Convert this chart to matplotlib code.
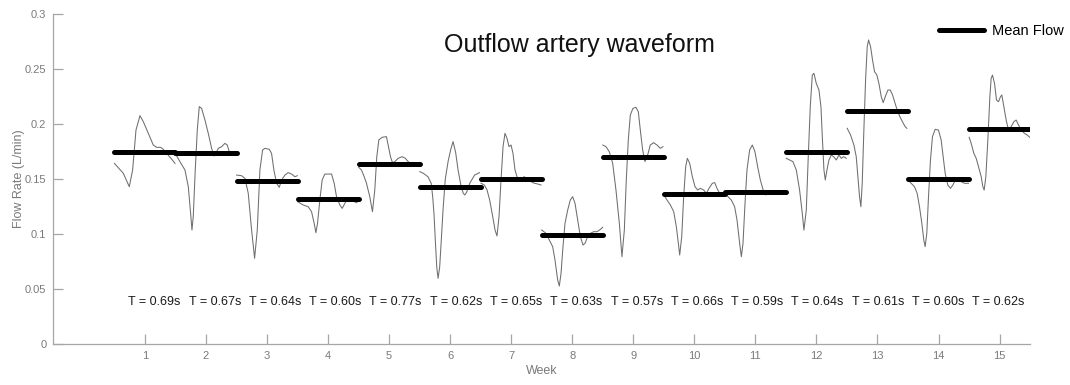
import matplotlib
matplotlib.use("Agg")
import matplotlib.pyplot as plt
import numpy as np

plt.rcParams["font.family"] = ["Liberation Sans", "DejaVu Sans"]

weeks = list(range(1, 16))
mean_flow = [0.1743, 0.1733, 0.1485, 0.1318, 0.1633, 0.1430, 0.1503, 0.0994,
             0.1703, 0.1361, 0.1382, 0.1743, 0.2121, 0.1497, 0.1955]
periods = ["0.69", "0.67", "0.64", "0.60", "0.77", "0.62", "0.65", "0.63",
           "0.57", "0.66", "0.59", "0.64", "0.61", "0.60", "0.62"]

# One cardiac cycle per week: (fraction of cycle, flow in L/min)
wave_w1 = [(0.00, 0.1642), (0.145, 0.1552), (0.243, 0.1430), (0.298, 0.1582),
           (0.353, 0.1945), (0.418, 0.2076), (0.473, 0.2021), (0.555, 0.1915),
           (0.636, 0.1809), (0.691, 0.1788), (0.757, 0.1788), (0.800, 0.1770),
           (0.855, 0.1733), (0.926, 0.1688), (0.992, 0.1642)]
wave_w2 = [(0.002, 0.1727), (0.073, 0.1658), (0.155, 0.1582), (0.210, 0.1430),
           (0.248, 0.1188), (0.270, 0.1036), (0.291, 0.1158), (0.324, 0.1582),
           (0.357, 0.1945), (0.390, 0.2158), (0.428, 0.2142), (0.483, 0.2036),
           (0.537, 0.1915), (0.592, 0.1779), (0.630, 0.1709), (0.663, 0.1733),
           (0.701, 0.1779), (0.756, 0.1794), (0.810, 0.1824), (0.848, 0.1809),
           (0.881, 0.1748), (0.936, 0.1739), (0.990, 0.1718)]
wave_w3 = [(0.001, 0.1536), (0.083, 0.1530), (0.138, 0.1506), (0.192, 0.1370),
           (0.247, 0.1036), (0.296, 0.0779), (0.340, 0.1036), (0.383, 0.1582),
           (0.427, 0.1764), (0.465, 0.1779), (0.536, 0.1770), (0.574, 0.1733),
           (0.612, 0.1582), (0.656, 0.1461), (0.700, 0.1424), (0.738, 0.1491),
           (0.793, 0.1536), (0.847, 0.1558), (0.902, 0.1545), (0.956, 0.1521),
           (0.995, 0.1530)]
wave_w4 = [(0.00, 0.1294), (0.092, 0.1264), (0.174, 0.1248), (0.229, 0.1203),
           (0.272, 0.1097), (0.300, 0.1012), (0.327, 0.1097), (0.365, 0.1309),
           (0.403, 0.1491), (0.447, 0.1545), (0.557, 0.1545), (0.600, 0.1461),
           (0.638, 0.1339), (0.693, 0.1264), (0.731, 0.1233), (0.775, 0.1279),
           (0.818, 0.1315), (0.873, 0.1309), (0.927, 0.1294), (0.971, 0.1285),
           (0.993, 0.1309)]
wave_w5 = [(0.003, 0.1606), (0.047, 0.1582), (0.091, 0.1521), (0.129, 0.1461),
           (0.183, 0.1339), (0.227, 0.1203), (0.265, 0.1400), (0.298, 0.1703),
           (0.331, 0.1855), (0.385, 0.1879), (0.456, 0.1885), (0.484, 0.1809),
           (0.522, 0.1703), (0.555, 0.1648), (0.593, 0.1658), (0.647, 0.1688),
           (0.713, 0.1703), (0.767, 0.1688), (0.811, 0.1658), (0.866, 0.1636),
           (0.909, 0.1627), (0.986, 0.1636)]
wave_w6 = [(0.002, 0.1567), (0.060, 0.1552), (0.137, 0.1520), (0.190, 0.1460),
           (0.215, 0.1330), (0.235, 0.1180), (0.258, 0.0930), (0.280, 0.0700),
           (0.302, 0.0597), (0.328, 0.0700), (0.355, 0.0950), (0.383, 0.1220),
           (0.420, 0.1500), (0.466, 0.1660), (0.510, 0.1770), (0.547, 0.1840),
           (0.590, 0.1740), (0.630, 0.1580), (0.680, 0.1430), (0.715, 0.1370),
           (0.740, 0.1355), (0.770, 0.1380), (0.820, 0.1460), (0.900, 0.1536),
           (0.980, 0.1558)]
wave_w7 = [(0.005, 0.1461), (0.060, 0.1445), (0.104, 0.1400), (0.147, 0.1309),
           (0.197, 0.1158), (0.235, 0.1036), (0.267, 0.0982), (0.300, 0.1158),
           (0.333, 0.1491), (0.366, 0.1794), (0.398, 0.1915), (0.431, 0.1870),
           (0.464, 0.1794), (0.497, 0.1809), (0.529, 0.1733), (0.562, 0.1582),
           (0.595, 0.1521), (0.633, 0.1476), (0.671, 0.1506), (0.715, 0.1521),
           (0.770, 0.1491), (0.824, 0.1476), (0.879, 0.1461), (0.933, 0.1455),
           (0.988, 0.1445)]
wave_w8 = [(0.00, 0.1036), (0.070, 0.1006), (0.124, 0.0945), (0.179, 0.0885),
           (0.217, 0.0764), (0.261, 0.0582), (0.288, 0.0527), (0.316, 0.0642),
           (0.348, 0.0885), (0.381, 0.1097), (0.425, 0.1218), (0.468, 0.1309),
           (0.506, 0.1339), (0.545, 0.1279), (0.589, 0.1127), (0.633, 0.0976),
           (0.676, 0.0900), (0.709, 0.0915), (0.753, 0.0976), (0.797, 0.1006),
           (0.851, 0.1021), (0.906, 0.1021), (0.960, 0.1042), (0.998, 0.1061)]
wave_w9 = [(0.00, 0.1809), (0.052, 0.1794), (0.107, 0.1748), (0.162, 0.1642),
           (0.216, 0.1400), (0.271, 0.1097), (0.314, 0.0794), (0.353, 0.1036),
           (0.385, 0.1491), (0.418, 0.1855), (0.451, 0.2082), (0.494, 0.2142),
           (0.543, 0.2152), (0.582, 0.2112), (0.615, 0.1945), (0.653, 0.1764),
           (0.691, 0.1658), (0.735, 0.1718), (0.778, 0.1809), (0.833, 0.1830),
           (0.888, 0.1809), (0.942, 0.1779), (0.986, 0.1794)]
wave_w10 = [(0.00, 0.1355), (0.052, 0.1309), (0.107, 0.1264), (0.162, 0.1203),
            (0.205, 0.1067), (0.238, 0.0915), (0.260, 0.0809), (0.293, 0.0976),
            (0.325, 0.1339), (0.358, 0.1612), (0.385, 0.1688), (0.424, 0.1642),
            (0.467, 0.1521), (0.511, 0.1430), (0.555, 0.1400), (0.598, 0.1415),
            (0.653, 0.1400), (0.697, 0.1370), (0.740, 0.1415), (0.795, 0.1461),
            (0.833, 0.1467), (0.871, 0.1415), (0.915, 0.1370), (0.969, 0.1355)]
wave_w11 = [(0.00, 0.1385), (0.051, 0.1339), (0.106, 0.1309), (0.160, 0.1248),
            (0.199, 0.1127), (0.242, 0.0915), (0.270, 0.0794), (0.297, 0.0915),
            (0.330, 0.1279), (0.362, 0.1582), (0.406, 0.1764), (0.450, 0.1809),
            (0.493, 0.1748), (0.537, 0.1612), (0.581, 0.1491), (0.624, 0.1406),
            (0.668, 0.1355), (0.706, 0.1370), (0.761, 0.1385), (0.843, 0.1385),
            (0.925, 0.1388), (0.996, 0.1385)]
wave_w12 = [(0.006, 0.1688), (0.061, 0.1673), (0.115, 0.1658), (0.170, 0.1582),
            (0.224, 0.1400), (0.268, 0.1188), (0.295, 0.1036), (0.334, 0.1218),
            (0.366, 0.1703), (0.399, 0.2158), (0.432, 0.2445), (0.459, 0.2461),
            (0.497, 0.2370), (0.541, 0.2309), (0.574, 0.2158), (0.596, 0.1885),
            (0.623, 0.1582), (0.645, 0.1491), (0.672, 0.1582), (0.705, 0.1673),
            (0.743, 0.1718), (0.781, 0.1703), (0.825, 0.1673), (0.869, 0.1718),
            (0.907, 0.1688), (0.945, 0.1703), (0.989, 0.1688)]
wave_w13 = [(0.004, 0.1961), (0.059, 0.1900), (0.114, 0.1809), (0.152, 0.1703),
            (0.179, 0.1521), (0.206, 0.1339), (0.228, 0.1248), (0.250, 0.1461),
            (0.277, 0.1945), (0.305, 0.2400), (0.332, 0.2703), (0.354, 0.2764),
            (0.387, 0.2703), (0.419, 0.2582), (0.452, 0.2476), (0.490, 0.2445),
            (0.523, 0.2370), (0.562, 0.2248), (0.594, 0.2194), (0.627, 0.2248),
            (0.671, 0.2309), (0.709, 0.2309), (0.747, 0.2264), (0.780, 0.2203),
            (0.823, 0.2127), (0.867, 0.2067), (0.917, 0.2012), (0.954, 0.1976),
            (0.981, 0.1961)]
wave_w14 = [(0.00, 0.1491), (0.052, 0.1461), (0.106, 0.1430), (0.150, 0.1370),
            (0.188, 0.1248), (0.227, 0.1097), (0.259, 0.0945), (0.281, 0.0885),
            (0.308, 0.1006), (0.336, 0.1339), (0.368, 0.1673), (0.401, 0.1885),
            (0.445, 0.1952), (0.499, 0.1945), (0.543, 0.1855), (0.576, 0.1703),
            (0.609, 0.1552), (0.652, 0.1445), (0.696, 0.1415), (0.734, 0.1445),
            (0.778, 0.1491), (0.827, 0.1491), (0.871, 0.1476), (0.925, 0.1461),
            (0.991, 0.1461)]
wave_w15 = [(0.002, 0.1879), (0.035, 0.1824), (0.079, 0.1733), (0.117, 0.1688),
            (0.155, 0.1612), (0.199, 0.1521), (0.226, 0.1430), (0.248, 0.1400),
            (0.275, 0.1521), (0.308, 0.1855), (0.341, 0.2248), (0.362, 0.2415),
            (0.384, 0.2445), (0.417, 0.2370), (0.450, 0.2218), (0.483, 0.2203),
            (0.515, 0.2248), (0.537, 0.2264), (0.570, 0.2158), (0.608, 0.2036),
            (0.646, 0.1945), (0.690, 0.1976), (0.734, 0.2021), (0.772, 0.2036),
            (0.810, 0.1991), (0.854, 0.1945), (0.908, 0.1915), (0.952, 0.1900),
            (0.996, 0.1879)]

waves = [wave_w1, wave_w2, wave_w3, wave_w4, wave_w5, wave_w6, wave_w7, wave_w8,
         wave_w9, wave_w10, wave_w11, wave_w12, wave_w13, wave_w14, wave_w15]

axis_grey = "#a6a6a6"
label_grey = "#7a7a7a"

fig = plt.figure(figsize=(10.7, 3.85), dpi=100)
ax = fig.add_axes([0.0499, 0.1065, 0.9128, 0.8571])

for wk, wave, mf, per in zip(weeks, waves, mean_flow, periods):
    ph = np.array([p for p, _ in wave])
    fl = np.array([v for _, v in wave])
    ax.plot(wk - 0.5 + ph, fl, color="#6e6e6e", lw=0.75, zorder=2)
    line, = ax.plot([wk - 0.5, wk + 0.5], [mf, mf], color="black", lw=3.6,
                    solid_capstyle="round", zorder=3)
    # period annotations sit in a row slightly narrower than the week spacing
    ax.text(0.727 + 0.9876 * (wk - 1), 0.038, f"T = {per}s", ha="left",
            va="center", fontsize=9, color="#1a1a1a")
line.set_label("Mean Flow")

ax.set_xlim(-0.5, 15.5)
ax.set_ylim(0, 0.3)
ax.set_xticks(weeks)
ax.set_yticks([0, 0.05, 0.1, 0.15, 0.2, 0.25, 0.3])
ax.set_yticklabels(["0", "0.05", "0.1", "0.15", "0.2", "0.25", "0.3"])

for side in ("top", "right"):
    ax.spines[side].set_visible(False)
for side in ("left", "bottom"):
    ax.spines[side].set_color(axis_grey)
    ax.spines[side].set_linewidth(0.9)
ax.tick_params(direction="in", length=7, width=0.9, color=axis_grey,
               labelcolor=label_grey, labelsize=8)
ax.tick_params(axis="x", pad=5)
ax.tick_params(axis="y", pad=5)

ax.set_xlabel("Week", fontsize=9, color=label_grey)
ax.xaxis.set_label_coords(0.5, -0.065)
ax.set_ylabel("Flow Rate (L/min)", fontsize=9, color=label_grey)
ax.yaxis.set_label_coords(-0.029, 0.5)

ax.text(0.539, 0.906, "Outflow artery waveform", transform=ax.transAxes,
        ha="center", va="center", fontsize=18, color="#111111")

ax.legend(loc="upper right", bbox_to_anchor=(1.045, 1.0), frameon=False,
          fontsize=10.5, handlelength=3.1, handletextpad=0.55, borderaxespad=0.3)

fig.savefig("out.png", dpi=100, facecolor="white")
